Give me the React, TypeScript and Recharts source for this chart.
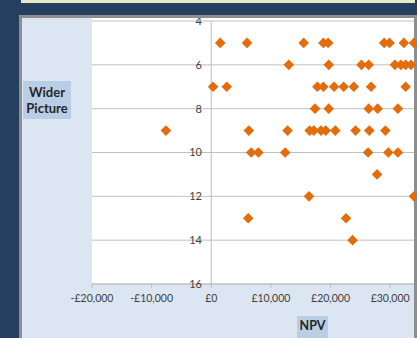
import React from "react";
import { ScatterChart, Scatter, XAxis, YAxis, CartesianGrid, ReferenceLine } from "recharts";

const npv = [
  1500, 6000, 15500, 18800, 19600, 29000, 29900, 32300, 34000,
  13000, 19700, 25200, 26400, 30800, 31800, 32600, 33500,
  300, 2600, 17800, 18800, 20600, 22200, 23900, 26800, 32600,
  17400, 19700, 26400, 27900, 31300,
  -7600, 6300, 12800, 16500, 17200, 18400, 19200, 20800, 24200, 26500, 29200,
  6700, 7900, 12400, 26300, 29700, 31300,
  27800,
  16400, 34000,
  6200, 22600,
  23700,
];
const widerPicture = [
  5, 5, 5, 5, 5, 5, 5, 5, 5,
  6, 6, 6, 6, 6, 6, 6, 6,
  7, 7, 7, 7, 7, 7, 7, 7, 7,
  8, 8, 8, 8, 8,
  9, 9, 9, 9, 9, 9, 9, 9, 9, 9, 9,
  10, 10, 10, 10, 10, 10,
  11,
  12, 12,
  13, 13,
  14,
];
const xTicks = [-20000, -10000, 0, 10000, 20000, 30000];
const yTicks = [4, 6, 8, 10, 12, 14, 16];
const xAxisTitle = "NPV";
const yAxisTitle = ["Wider", "Picture"];

const data = npv.map((v, i) => ({ npv: v, wp: widerPicture[i] }));

const FONT = "Lato, 'Open Sans', sans-serif";

const fmtMoney = (v: number) => {
  const s = "£" + Math.abs(v).toLocaleString("en-GB");
  return v < 0 ? "-" + s : s;
};

const Diamond = (props: any) => {
  const { cx, cy } = props;
  const r = 5.3;
  return (
    <path
      d={`M${cx},${cy - r}L${cx + r},${cy}L${cx},${cy + r}L${cx - r},${cy}Z`}
      fill="#E46C0A"
    />
  );
};

const YTick = (props: any) => {
  const { y, payload } = props;
  return (
    <text
      x={202}
      y={y}
      dy="0.35em"
      textAnchor="end"
      fontFamily={FONT}
      fontSize={11}
      fill="#404040"
    >
      {payload.value}
    </text>
  );
};

export default function App() {
  return (
    <div
      style={{
        position: "fixed",
        left: 0,
        top: 0,
        width: 417,
        height: 338,
        background: "#243F60",
        overflow: "hidden",
        fontFamily: FONT,
      }}
    >
      <div style={{ position: "absolute", left: 21, top: 0, width: 394, height: 3, background: "#E4EBC6" }} />
      <div style={{ position: "absolute", left: 19, top: 15, width: 398, height: 340, background: "#8E8E8E" }} />
      <div style={{ position: "absolute", left: 22, top: 18, width: 392, height: 340, background: "#DCE6F2" }} />
      <div style={{ position: "absolute", left: 92, top: 18, width: 322, height: 266, background: "#FFFFFF" }} />
      <div
        style={{
          position: "absolute",
          left: 23,
          top: 81,
          width: 48,
          height: 38,
          background: "#B9CDE5",
          color: "#262626",
          fontWeight: 700,
          fontSize: 13,
          lineHeight: "16px",
          textAlign: "center",
          paddingTop: 3,
          boxSizing: "border-box",
        }}
      >
        {yAxisTitle[0]}
        <br />
        {yAxisTitle[1]}
      </div>
      <div
        style={{
          position: "absolute",
          left: 297,
          top: 316,
          width: 31,
          height: 24,
          background: "#B9CDE5",
          color: "#262626",
          fontWeight: 700,
          fontSize: 12.5,
          lineHeight: "20px",
          textAlign: "center",
        }}
      >
        {xAxisTitle}
      </div>
      <div style={{ position: "absolute", left: 0, top: 18 }}>
        <ScatterChart width={417} height={320} margin={{ top: 3, right: 3, bottom: 0, left: 91 }}>
          <CartesianGrid vertical={false} stroke="#C0C0C0" />
          <XAxis
            type="number"
            dataKey="npv"
            domain={[-20000, 34000]}
            ticks={xTicks}
            tickFormatter={fmtMoney}
            height={54}
            tickSize={4}
            tickMargin={7}
            stroke="#BFBFBF"
            tick={{ fill: "#404040", fontSize: 10.5, fontFamily: FONT }}
            interval={0}
          />
          <YAxis
            type="number"
            dataKey="wp"
            domain={[4, 16]}
            ticks={yTicks}
            reversed
            width={1}
            axisLine={false}
            tickLine={false}
            tick={YTick}
            interval={0}
          />
          <ReferenceLine x={0} stroke="#BFBFBF" />
          <Scatter data={data} shape={<Diamond />} isAnimationActive={false} />
        </ScatterChart>
      </div>
    </div>
  );
}
